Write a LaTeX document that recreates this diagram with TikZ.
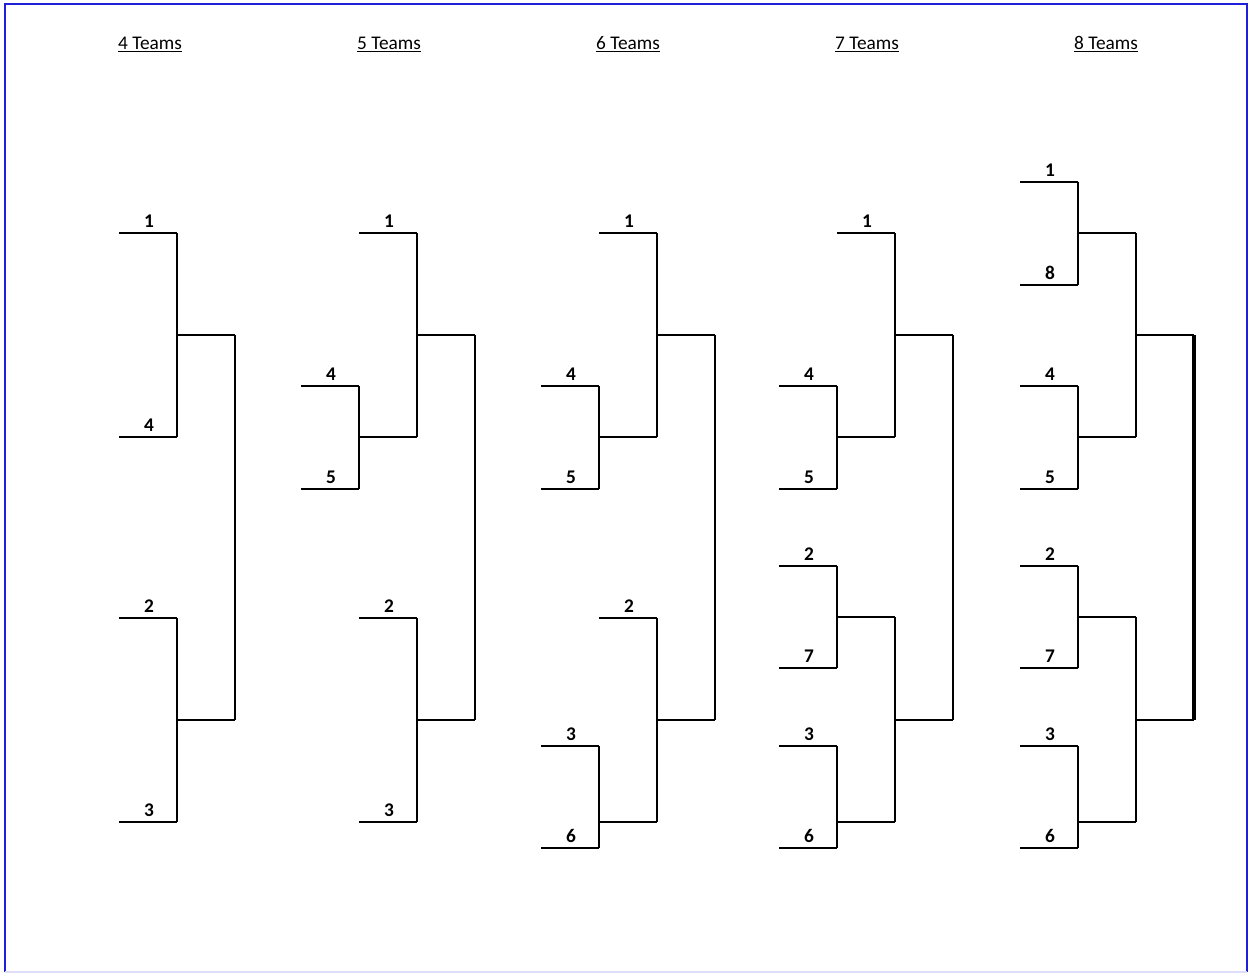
\documentclass[tikz,border=0pt]{standalone}
\usepackage{fontspec}
\setmainfont{Carlito}
\usepackage{tikz}
\definecolor{frameblue}{HTML}{1E1EDC}
\tikzset{
  line/.style={line width=1.2pt},
  finalline/.style={line width=1.8pt},
  seedlbl/.style={anchor=base, inner sep=0pt, font=\fontsize{11}{13}\selectfont\bfseries},
  title/.style={anchor=base, inner sep=0pt, font=\fontsize{11}{13}\selectfont}
}
% one slot: name, left x, y, seed label
\newcommand{\seedline}[4]{%
  \coordinate (#1) at (#2,#3);
  \coordinate (#1-e) at (#2+58,#3);
  \draw[line] (#1) -- (#1-e);
  \node[seedlbl] (#1-l) at (#2+30,#3-6) {#4};}
% vertical join of two slot ends
\newcommand{\pairup}[3][line]{\draw[#1] (#2-e) -- (#3-e);}

\begin{document}
\begin{tikzpicture}[x=0.02cm, y=-0.02cm]
\useasboundingbox (0,0) rectangle (1249,974);
\draw[frameblue, line width=1.1pt] (5,972) -- (5,4) -- (1247,4) -- (1247,972);
\draw[frameblue!15, line width=1pt] (5,972) -- (1247,972);

% titles
\node[title] (t4) at (150,49) {\underline{4 Teams}};
\node[title] (t5) at (389,49) {\underline{5 Teams}};
\node[title] (t6) at (628,49) {\underline{6 Teams}};
\node[title] (t7) at (867,49) {\underline{7 Teams}};
\node[title] (t8) at (1106,49) {\underline{8 Teams}};

% 4 teams
\seedline{A1}{119}{233}{1}
\seedline{A4}{119}{437}{4}
\seedline{A2}{119}{618}{2}
\seedline{A3}{119}{822}{3}
\seedline{AW1}{177}{335}{}
\seedline{AW2}{177}{720}{}
\pairup{A1}{A4}
\pairup{A2}{A3}
\pairup{AW1}{AW2}

% 5 teams
\seedline{B4}{301}{386}{4}
\seedline{B5}{301}{489}{5}
\seedline{BQ}{359}{437}{}
\seedline{B1}{359}{233}{1}
\seedline{B2}{359}{618}{2}
\seedline{B3}{359}{822}{3}
\seedline{BW1}{417}{335}{}
\seedline{BW2}{417}{720}{}
\pairup{B4}{B5}
\pairup{B1}{BQ}
\pairup{B2}{B3}
\pairup{BW1}{BW2}

% 6 teams
\seedline{C4}{541}{386}{4}
\seedline{C5}{541}{489}{5}
\seedline{C3}{541}{746}{3}
\seedline{C6}{541}{848}{6}
\seedline{CQ1}{599}{437}{}
\seedline{CQ2}{599}{822}{}
\seedline{C1}{599}{233}{1}
\seedline{C2}{599}{618}{2}
\seedline{CW1}{657}{335}{}
\seedline{CW2}{657}{720}{}
\pairup{C4}{C5}
\pairup{C3}{C6}
\pairup{C1}{CQ1}
\pairup{C2}{CQ2}
\pairup{CW1}{CW2}

% 7 teams
\seedline{D4}{779}{386}{4}
\seedline{D5}{779}{489}{5}
\seedline{D2}{779}{566}{2}
\seedline{D7}{779}{668}{7}
\seedline{D3}{779}{746}{3}
\seedline{D6}{779}{848}{6}
\seedline{D1}{837}{233}{1}
\seedline{DQ1}{837}{437}{}
\seedline{DQ2}{837}{617}{}
\seedline{DQ3}{837}{822}{}
\seedline{DW1}{895}{335}{}
\seedline{DW2}{895}{720}{}
\pairup{D4}{D5}
\pairup{D2}{D7}
\pairup{D3}{D6}
\pairup{D1}{DQ1}
\pairup{DQ2}{DQ3}
\pairup{DW1}{DW2}

% 8 teams
\seedline{E1}{1020}{182}{1}
\seedline{E8}{1020}{285}{8}
\seedline{E4}{1020}{386}{4}
\seedline{E5}{1020}{489}{5}
\seedline{E2}{1020}{566}{2}
\seedline{E7}{1020}{668}{7}
\seedline{E3}{1020}{746}{3}
\seedline{E6}{1020}{848}{6}
\seedline{EQ1}{1078}{233}{}
\seedline{EQ2}{1078}{437}{}
\seedline{EQ3}{1078}{617}{}
\seedline{EQ4}{1078}{822}{}
\seedline{EW1}{1136}{335}{}
\seedline{EW2}{1136}{720}{}
\pairup{E1}{E8}
\pairup{E4}{E5}
\pairup{E2}{E7}
\pairup{E3}{E6}
\pairup{EQ1}{EQ2}
\pairup{EQ3}{EQ4}
\pairup[finalline]{EW1}{EW2}
\end{tikzpicture}
\end{document}
